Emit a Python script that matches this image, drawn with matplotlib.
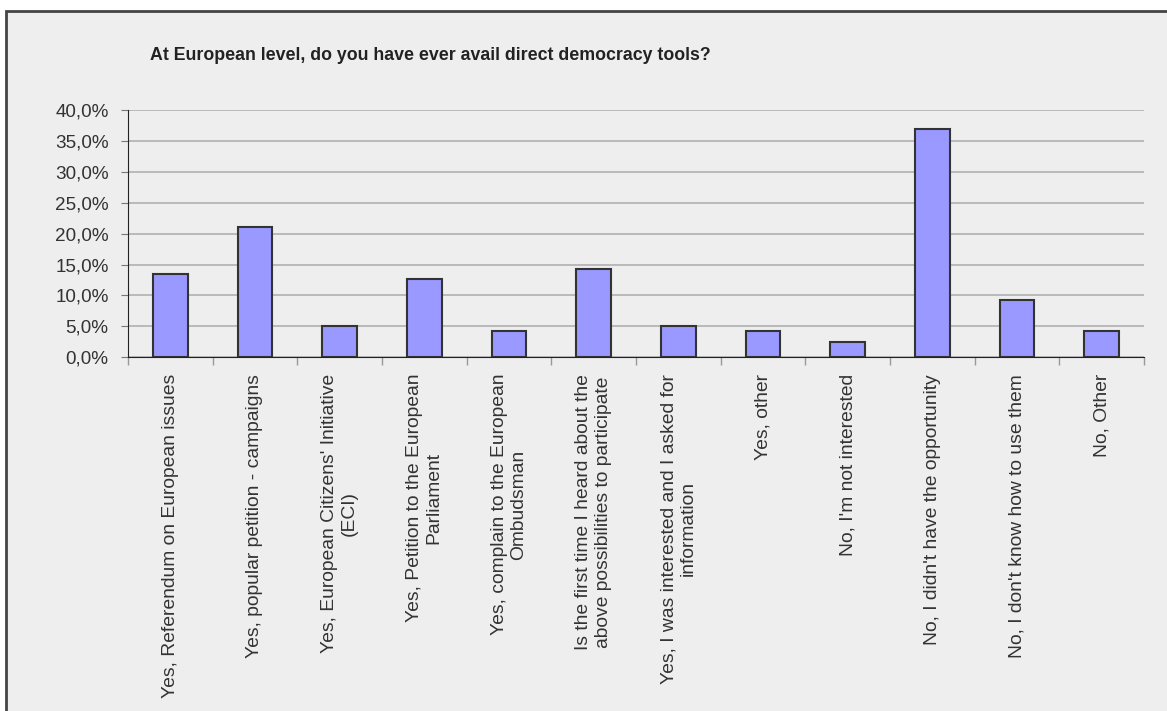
import numpy as np
from matplotlib import pyplot as plt
from matplotlib.patches import Rectangle
from matplotlib.ticker import FuncFormatter

categories = [
    "Yes, Referendum on European issues",
    "Yes, popular petition - campaigns",
    "Yes, European Citizens' Initiative\n(ECI)",
    "Yes, Petition to the European\nParliament",
    "Yes, complain to the European\nOmbudsman",
    "Is the first time I heard about the\nabove possibilities to participate",
    "Yes, I was interested and I asked for\ninformation",
    "Yes, other",
    "No, I'm not interested",
    "No, I didn't have the opportunity",
    "No, I don't know how to use them",
    "No, Other",
]
values = [13.4, 21.0, 5.0, 12.6, 4.2, 14.3, 5.0, 4.2, 2.4, 37.0, 9.2, 4.2]
yticks = [0, 5, 10, 15, 20, 25, 30, 35, 40]
title = "At European level, do you have ever avail direct democracy tools?"

plt.rcParams['font.family'] = ['Liberation Sans', 'DejaVu Sans']

W, H = 1167, 711
fig = plt.figure(figsize=(W / 100, H / 100), dpi=100, facecolor="white")

# grey panel with dark frame (cut off at right and bottom)
fig.patches.append(Rectangle((6 / W, -0.05), 1.1, 1 - 11 / H + 0.05,
                             transform=fig.transFigure, facecolor="#eeeeee",
                             edgecolor="#444444", linewidth=2, zorder=-10))

ax = fig.add_axes([128 / W, 1 - 357.3 / H, (1144 - 128) / W, (357.3 - 110) / H])
ax.set_facecolor("none")

x = np.arange(len(values))
ax.bar(x, values, width=0.41, color="#9999ff", edgecolor="#333333",
       linewidth=1.5, zorder=3)

ax.set_xlim(-0.5, len(values) - 0.5)
ax.set_ylim(0, 40)
ax.set_yticks(yticks)
ax.yaxis.set_major_formatter(FuncFormatter(lambda v, p: f"{v:.1f}%".replace(".", ",")))
ax.yaxis.grid(True, color="#b0b0b0", linewidth=1.2, zorder=0)
ax.set_axisbelow(True)

ax.set_xticks(x)
ax.set_xticklabels(categories, rotation=90, ha="center", va="top",
                   multialignment="center", fontsize=13.9, color="#333333")
ax.set_xticks(np.arange(-0.5, len(values)), minor=True)
ax.tick_params(axis="x", which="major", length=0, pad=12)
ax.tick_params(axis="x", which="minor", length=6, color="#999999", width=1)
ax.tick_params(axis="y", length=5, color="#777777", labelsize=13.6,
               labelcolor="#333333", pad=9)

for s in ["top", "right"]:
    ax.spines[s].set_visible(False)
ax.spines["left"].set_color("#222222")
ax.spines["bottom"].set_color("#222222")

fig.text(150 / W, 1 - 55 / H, title, fontsize=12.8, fontweight="bold",
         color="#222222", ha="left", va="center")

plt.savefig("out.png", dpi=100, facecolor="white")
